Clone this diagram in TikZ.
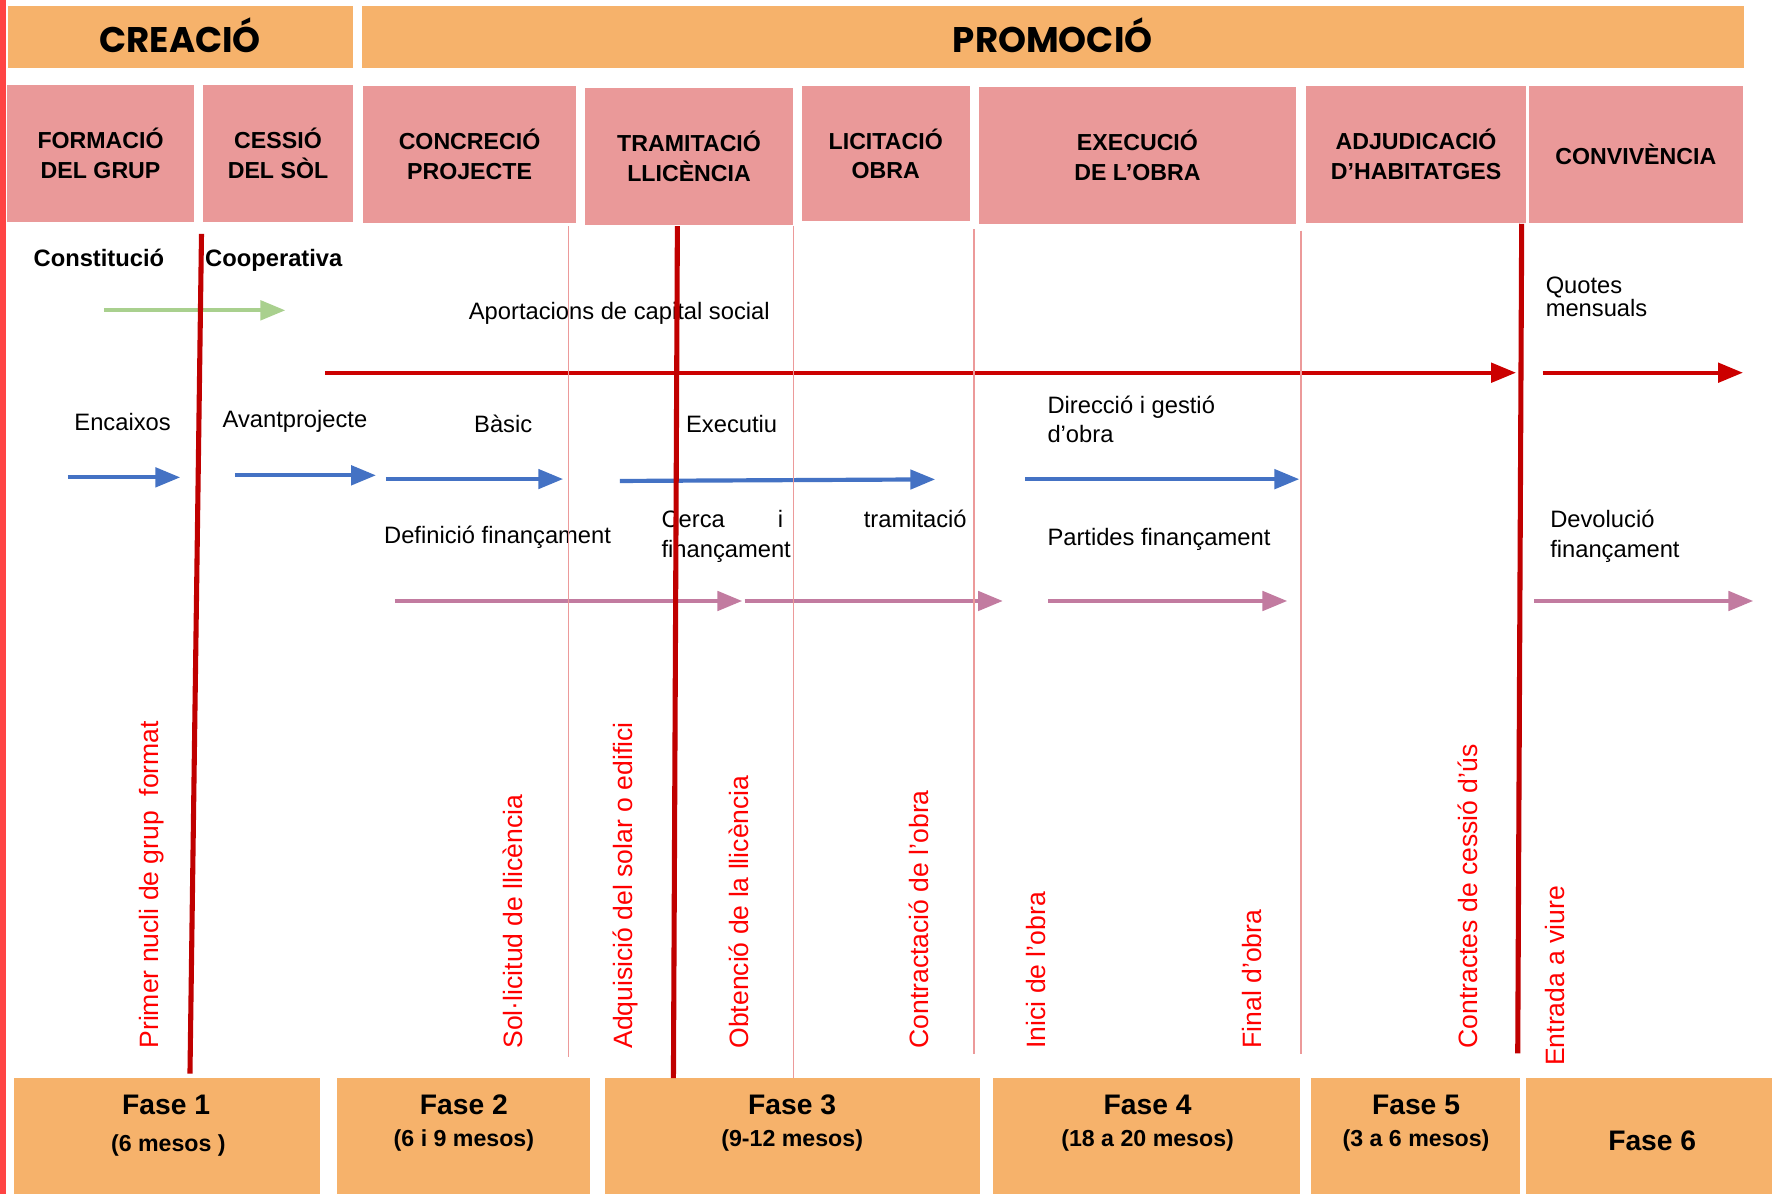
\documentclass[tikz,border=0pt]{standalone}
\usepackage{fontspec}
\setmainfont{Liberation Sans}
\newfontfamily\titlefont{Poppins}
\usetikzlibrary{arrows.meta}
\definecolor{orangebox}{HTML}{F6B26B}
\definecolor{pinkbox}{HTML}{EA9999}
\definecolor{thinred}{HTML}{EC9A9A}
\definecolor{darkred}{HTML}{C00000}
\definecolor{arrowred}{HTML}{CC0000}
\definecolor{bluearrow}{HTML}{4472C4}
\definecolor{mauvearrow}{HTML}{C27BA0}
\definecolor{greenarrow}{HTML}{A9D08E}
\definecolor{edgered}{HTML}{FF4444}
\definecolor{labelred}{HTML}{FF0000}
\begin{document}
\begin{tikzpicture}[x=1pt,y=-1pt,
  titlebox/.style={fill=orangebox, inner sep=0pt, outer sep=0pt, font=\titlefont\bfseries\fontsize{31.5}{36}\selectfont},
  headbox/.style={fill=pinkbox, inner sep=0pt, outer sep=0pt, align=center, font=\bfseries\fontsize{20.5}{26}\selectfont},
  fasebox/.style={fill=orangebox, inner sep=0pt, outer sep=0pt},
  fasetitle/.style={inner sep=0pt, font=\bfseries\fontsize{25}{30}\selectfont},
  fasesub/.style={inner sep=0pt, font=\bfseries\fontsize{20.5}{25}\selectfont},
  txt/.style={inner sep=0pt, font=\fontsize{21}{26}\selectfont},
  boldtxt/.style={inner sep=0pt, font=\bfseries\fontsize{21}{26}\selectfont},
  milestone/.style={inner sep=0pt, rotate=90, anchor=west, text=labelred, font=\fontsize{23.5}{28}\selectfont},
  fatline/.style={line width=3.7pt, -{Triangle[length=22pt,width=17pt]}},
  thickbar/.style={draw=darkred, line width=4.5pt},
  thinbar/.style={draw=thinred, line width=1.3pt}
]
\useasboundingbox (0,0) rectangle (1568,1056.5);
\fill[white] (0,0) rectangle (1568,1056.5);
\fill[edgered] (0,0) rectangle (5,1056.5);

% top titles
\node[titlebox, minimum width=305pt, minimum height=54.7pt] (creacio) at (159.5,32.65) {\raisebox{2.5pt}{CREACIÓ}};
\node[titlebox, minimum width=1223pt, minimum height=54.7pt] (promocio) at (931.5,32.65) {\raisebox{2.5pt}{PROMOCIÓ}};

% stage headers
\node[headbox, minimum width=166pt, minimum height=121pt] (formacio) at (89,135.7) {FORMACIÓ\\DEL GRUP};
\node[headbox, minimum width=132pt, minimum height=121pt] (cessio) at (246,135.7) {CESSIÓ\\DEL SÒL};
\node[headbox, minimum width=189pt, minimum height=121pt] (concrecio) at (415.5,136.55) {CONCRECIÓ\\PROJECTE};
\node[headbox, minimum width=184.5pt, minimum height=121pt] (tramitacio) at (609.75,138.35) {TRAMITACIÓ\\LLICÈNCIA};
\node[headbox, minimum width=148.5pt, minimum height=120pt] (licitacio) at (783.75,136) {LICITACIÓ\\OBRA};
\node[headbox, minimum width=281pt, minimum height=121pt] (execucio) at (1006.5,137.5) {EXECUCIÓ\\DE L’OBRA};
\node[headbox, minimum width=194pt, minimum height=121pt] (adjudicacio) at (1253,136.5) {ADJUDICACIÓ\\D’HABITATGES};
\node[headbox, minimum width=189pt, minimum height=121pt] (convivencia) at (1447.5,136.5) {CONVIVÈNCIA};

% phase boxes
\node[fasebox, minimum width=271pt, minimum height=103pt] (fase1) at (147.5,1005.5) {};
\node[fasebox, minimum width=224pt, minimum height=103pt] (fase2) at (410,1005.5) {};
\node[fasebox, minimum width=332pt, minimum height=103pt] (fase3) at (701,1005.5) {};
\node[fasebox, minimum width=271pt, minimum height=103pt] (fase4) at (1014.5,1005.5) {};
\node[fasebox, minimum width=185pt, minimum height=103pt] (fase5) at (1252.5,1005.5) {};
\node[fasebox, minimum width=218pt, minimum height=103pt] (fase6) at (1459,1005.5) {};
\node[fasetitle] (f1t) at (147,977.5) {Fase 1};
\node[fasesub] (f1s) at (149,1014) {(6 mesos )};
\node[fasetitle] (f2t) at (410.4,977.5) {Fase 2};
\node[fasesub] (f2s) at (410.5,1009) {(6 i 9 mesos)};
\node[fasetitle] (f3t) at (701,977.5) {Fase 3};
\node[fasesub] (f3s) at (701,1009) {(9-12 mesos)};
\node[fasetitle] (f4t) at (1015.5,977.5) {Fase 4};
\node[fasesub] (f4s) at (1015.5,1009) {(18 a 20 mesos)};
\node[fasetitle] (f5t) at (1253,977.5) {Fase 5};
\node[fasesub] (f5s) at (1253,1009) {(3 a 6 mesos)};
\node[fasetitle] (f6t) at (1462,1009) {Fase 6};

% texts
\node[boldtxt, anchor=base] (constitucio) at (87.5,236) {Constitució};
\node[boldtxt, anchor=base west] (cooperativa) at (181.4,236) {Cooperativa};
\node[txt] (aportacions) at (548,277.5) {Aportacions de capital social};
\node[txt, anchor=west, align=left, font=\fontsize{21}{18.3}\selectfont] (quotes) at (1367.6,262.6) {Quotes\\mensuals};
\node[txt] (encaixos) at (108.5,373.5) {Encaixos};
\node[txt] (avant) at (261,372.5) {Avantprojecte};
\node[txt] (basic) at (445.3,375.5) {Bàsic};
\node[txt] (executiu) at (647.4,375.5) {Executiu};
\node[txt, anchor=west, align=left, font=\fontsize{21}{25.7}\selectfont] (direccio) at (926.7,371.4) {Direcció i gestió\\d’obra};
\node[txt] (definicio) at (440.3,475.8) {Definició finançament};
\node[txt, anchor=west, align=left, text width=270pt, font=\fontsize{21}{26.6}\selectfont] (cerca) at (585.2,474.3) {Cerca\hspace{47pt}i\hfill tramitació\\finançament};
\node[txt, anchor=west] (partides) at (926.7,477.5) {Partides finançament};
\node[txt, anchor=west, align=left, font=\fontsize{21}{26.6}\selectfont] (devolucio) at (1371.6,474.3) {Devolució\\finançament};

% milestones
\node[milestone] (m1) at (134.6,928) {Primer nucli de grup\ \ format};
\node[milestone] (m2) at (453.8,928) {Sol·licitud de llicència};
\node[milestone] (m3) at (553.9,928) {Adquisició del solar o edifici};
\node[milestone] (m4) at (653.8,928) {Obtenció de la llicència};
\node[milestone] (m5) at (813,928) {Contractació de l’obra};
\node[milestone] (m6) at (916.4,928) {Inici de l’obra};
\node[milestone] (m7) at (1107.6,928) {Final d’obra};
\node[milestone] (m8) at (1299,928) {Contractes de cessió d’ús};
\node[milestone] (m9) at (1376,943.3) {Entrada a viure};

% arrow coordinates
\coordinate (g1) at (92,274.6);   \coordinate (g2) at (252.5,274.6);
\coordinate (r1) at (288,329.8);  \coordinate (r2) at (1341.5,329.8);
\coordinate (r3) at (1365,329.8); \coordinate (r4) at (1542.3,329.8);
\coordinate (b1) at (60,422.4);   \coordinate (b2) at (159.5,422.4);
\coordinate (b3) at (207.8,420.6); \coordinate (b4) at (332.7,420.6);
\coordinate (b5) at (341.4,423.9); \coordinate (b6) at (498.3,423.9);
\coordinate (b7) at (548.6,425.6); \coordinate (b8) at (827.5,424.2);
\coordinate (b9) at (907,424);    \coordinate (b10) at (1149.7,424);
\coordinate (p1) at (349.5,531.8); \coordinate (p2) at (656.8,531.8);
\coordinate (p3) at (658.8,531.8); \coordinate (p4) at (887.4,531.8);
\coordinate (p5) at (927.7,531.8); \coordinate (p6) at (1139.1,531.8);
\coordinate (p7) at (1357.6,531.8); \coordinate (p8) at (1551.4,531.8);

\draw[fatline, draw=greenarrow, fill=greenarrow] (g1) -- (g2);
\draw[fatline, draw=arrowred, fill=arrowred] (r1) -- (r2);
\draw[fatline, draw=arrowred, fill=arrowred] (r3) -- (r4);
\foreach \a/\b in {b1/b2,b3/b4,b5/b6,b7/b8,b9/b10}
  \draw[fatline, draw=bluearrow, fill=bluearrow] (\a) -- (\b);
\foreach \a/\b in {p1/p2,p3/p4,p5/p6,p7/p8}
  \draw[fatline, draw=mauvearrow, fill=mauvearrow] (\a) -- (\b);

% vertical separators
\coordinate (t1) at (503,200);   \coordinate (u1) at (503,935.5);
\coordinate (t2) at (702,200);   \coordinate (u2) at (702,954);
\coordinate (t3) at (862,203);   \coordinate (u3) at (862,933);
\coordinate (t4) at (1151,204);  \coordinate (u4) at (1151,933);
\foreach \a/\b in {t1/u1,t2/u2,t3/u3,t4/u4}
  \draw[thinbar] (\a) -- (\b);

\coordinate (k1) at (178.3,207);  \coordinate (l1) at (168.1,950);
\coordinate (k2) at (599.4,200);  \coordinate (l2) at (595.9,954);
\coordinate (k3) at (1346.5,198); \coordinate (l3) at (1343,932);
\foreach \a/\b in {k1/l1,k2/l2,k3/l3}
  \draw[thickbar] (\a) -- (\b);
\end{tikzpicture}
\end{document}
